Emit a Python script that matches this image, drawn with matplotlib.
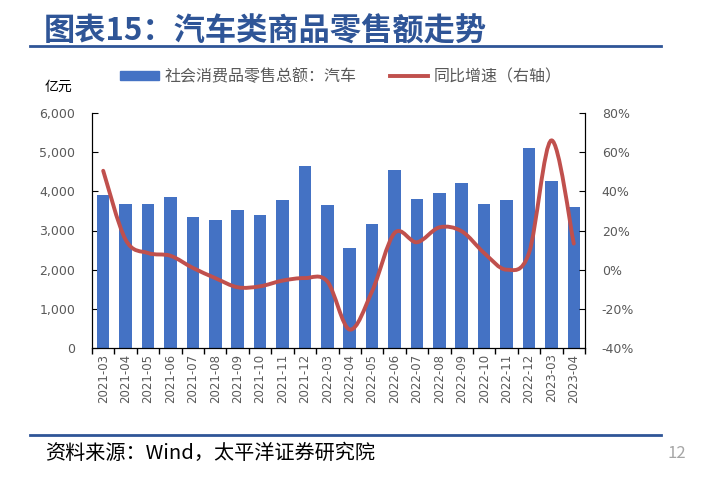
import numpy as np
import matplotlib
matplotlib.use("Agg")
import matplotlib.pyplot as plt
from matplotlib.path import Path
from matplotlib.patches import PathPatch, Patch
from matplotlib.lines import Line2D
from matplotlib.ticker import FuncFormatter

plt.rcParams['font.family'] = ['Noto Sans CJK SC', 'DejaVu Sans']

months = ['2021-03', '2021-04', '2021-05', '2021-06', '2021-07', '2021-08',
          '2021-09', '2021-10', '2021-11', '2021-12', '2022-03', '2022-04',
          '2022-05', '2022-06', '2022-07', '2022-08', '2022-09', '2022-10',
          '2022-11', '2022-12', '2023-03', '2023-04']
# 社会消费品零售总额：汽车（亿元）
sales = [3915, 3677, 3677, 3855, 3336, 3277, 3523, 3387, 3770, 4647, 3660, 2553,
         3174, 4545, 3813, 3966, 4204, 3685, 3787, 5098, 4264, 3609]
# 同比增速（%）
yoy = [50.5, 15.3, 8.5, 7.1, 0.9, -4.3, -9.0, -8.5, -5.6, -4.3, -6.0, -30.6,
       -11.0, 18.7, 14.0, 21.6, 19.6, 8.5, 0.0, 8.5, 66.0, 13.3]

blue = '#4472C4'
red = '#C0504D'
grey = '#595959'
title_blue = '#2F5597'

fig = plt.figure(figsize=(7.14, 4.78), dpi=100)
ax = fig.add_axes([92 / 714, 1 - 348 / 478, (585 - 92) / 714, (348 - 113) / 478])
x = np.arange(len(months))

ax.bar(x, sales, width=0.56, color=blue, zorder=2)
ax.set_xlim(-0.5, len(months) - 0.5)
ax.set_ylim(0, 6000)
ax.set_yticks(range(0, 6001, 1000))
ax.yaxis.set_major_formatter(FuncFormatter(lambda v, p: f'{int(v):,}'))
ax.set_xticks(x)
ax.set_xticklabels(months, rotation=90, fontsize=8.5, color=grey, family='DejaVu Sans')
ax.tick_params(axis='x', length=0, pad=4)
ax.set_xticks(np.arange(-0.5, len(months)), minor=True)
ax.tick_params(axis='x', which='minor', length=4, direction='out', width=1)
ax.tick_params(axis='y', direction='in', length=4, labelsize=9, labelcolor=grey, pad=12)
for lab in ax.get_yticklabels():
    lab.set_family('DejaVu Sans')
ax.spines['top'].set_visible(False)

ax2 = ax.twinx()
ax2.set_ylim(-40, 80)
ax2.set_yticks(range(-40, 81, 20))
ax2.yaxis.set_major_formatter(FuncFormatter(lambda v, p: f'{int(v)}%'))
ax2.tick_params(axis='y', direction='in', length=4, labelsize=9, labelcolor=grey, pad=12)
for lab in ax2.get_yticklabels():
    lab.set_family('DejaVu Sans')
ax2.spines['top'].set_visible(False)

# smoothed line (Catmull-Rom -> Bezier), like Excel's smooth line
pts = np.column_stack([x, yoy]).astype(float)
verts = [tuple(pts[0])]
codes = [Path.MOVETO]
for i in range(len(pts) - 1):
    p0 = pts[i - 1] if i > 0 else pts[i]
    p1, p2 = pts[i], pts[i + 1]
    p3 = pts[i + 2] if i + 2 < len(pts) else pts[i + 1]
    c1 = p1 + (p2 - p0) / 6
    c2 = p2 - (p3 - p1) / 6
    verts += [tuple(c1), tuple(c2), tuple(p2)]
    codes += [Path.CURVE4] * 3
ax2.add_patch(PathPatch(Path(verts, codes), facecolor='none', edgecolor=red, lw=2.8,
                        capstyle='round', zorder=3))

# legend
handles = [Patch(color=blue), Line2D([], [], color=red, lw=2.8)]
fig.legend(handles, ['社会消费品零售总额：汽车', '同比增速（右轴）'], loc='center left',
           bbox_to_anchor=(106 / 714, 1 - 77 / 478), ncol=2, frameon=False,
           fontsize=11.5, labelcolor=grey, handlelength=2.4, handleheight=0.5,
           columnspacing=2.1, handletextpad=0.35)

fig.text(45 / 714, 1 - 87 / 478, '亿元', fontsize=10, color='black', va='center')

# title and frame lines
fig.text(44 / 714, 1 - 32 / 478, '图表15：汽车类商品零售额走势', fontsize=22.5, fontweight='bold',
         color=title_blue, va='center')
fig.add_artist(Line2D([30 / 714, 661 / 714], [1 - 46 / 478] * 2, color=title_blue, lw=2))
fig.add_artist(Line2D([30 / 714, 661 / 714], [1 - 435 / 478] * 2, color=title_blue, lw=2))
fig.text(45 / 714, 1 - 453 / 478, '资料来源：Wind，太平洋证券研究院', fontsize=14.5,
         color='black', va='center')
fig.text(686 / 714, 1 - 453 / 478, '12', fontsize=12, color='#A6A6A6', va='center', ha='right')

fig.savefig('out.png', dpi=100)
